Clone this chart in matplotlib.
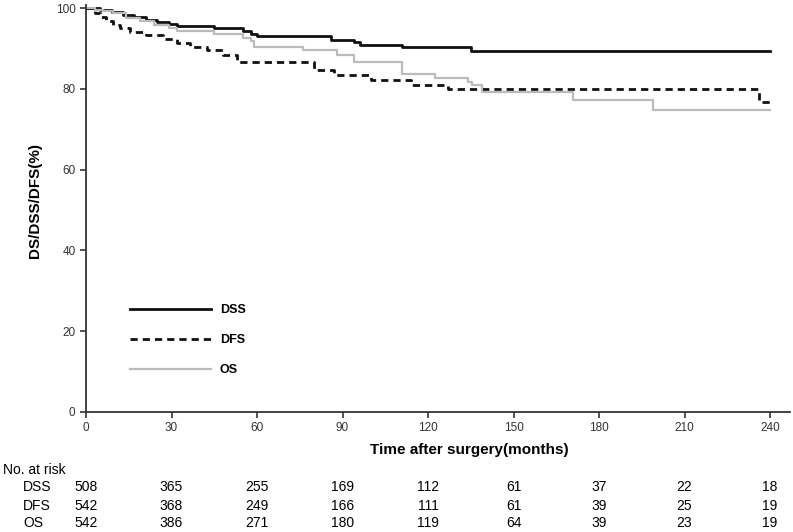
import matplotlib
matplotlib.use("Agg")
import matplotlib.pyplot as plt
import matplotlib.transforms as mtransforms

plt.rcParams["font.family"] = ["Liberation Sans", "DejaVu Sans"]

# Kaplan-Meier step points (months, %)
dss_t = [0, 5, 9, 13, 17, 21, 25, 29, 32, 45, 55, 58, 60, 86, 94, 96, 111, 135, 240]
dss_v = [100, 99.5, 99.0, 98.4, 97.8, 97.2, 96.6, 96.1, 95.7, 95.0, 94.3, 93.7, 93.1,
         92.2, 91.7, 91.0, 90.5, 89.5, 89.5]

dfs_t = [0, 2, 3, 5, 7, 9.5, 12, 15.5, 21, 27, 32, 36.5, 42.5, 48, 53, 80, 87, 100,
         114, 127, 236, 240]
dfs_v = [100, 99.5, 98.8, 97.9, 96.8, 95.8, 95.0, 94.1, 93.3, 92.5, 91.5, 90.5, 89.6,
         88.4, 86.8, 84.7, 83.4, 82.3, 81.1, 80.1, 76.7, 76.7]

os_t = [0, 3, 6, 9.5, 14, 19, 24, 29, 32, 45, 55, 58, 59, 76, 88, 94, 111, 122.5,
        134, 135.5, 139, 171, 199, 240]
os_v = [100, 99.6, 99.2, 98.7, 97.7, 96.8, 95.9, 95.0, 94.4, 93.7, 92.7, 92.0, 90.5,
        89.6, 88.4, 86.6, 83.7, 82.8, 81.8, 80.9, 79.2, 77.2, 74.9, 74.9]

# number at risk table
risk_times = [0, 30, 60, 90, 120, 150, 180, 210, 240]
risk_dss = [508, 365, 255, 169, 112, 61, 37, 22, 18]
risk_dfs = [542, 368, 249, 166, 111, 61, 39, 25, 19]
risk_os = [542, 386, 271, 180, 119, 64, 39, 23, 19]

fig = plt.figure(figsize=(7.93, 5.32), dpi=100)
ax = fig.add_axes([86 / 793, 1 - 412 / 532, 704 / 793, 407 / 532])

ax.step(dss_t, dss_v, where="post", color="#111111", lw=2.0, label="DSS")
ax.step(dfs_t, dfs_v, where="post", color="#111111", lw=2.0,
        linestyle=(0, (2.6, 1.8)), label="DFS")
ax.step(os_t, os_v, where="post", color="#bbbbbb", lw=1.6, label="OS")

ax.set_xlim(0, 247)
ax.set_ylim(0, 100.8)
ax.set_xticks(risk_times)
ax.set_yticks([0, 20, 40, 60, 80, 100])
ax.tick_params(labelsize=8.5, labelcolor="#333333", length=4, width=1.2, color="#333333")

for s in ["top", "right"]:
    ax.spines[s].set_visible(False)
for s in ["left", "bottom"]:
    ax.spines[s].set_linewidth(1.3)
    ax.spines[s].set_color("#333333")

ax.set_xlabel("Time after surgery(months)", fontsize=11, fontweight="bold")
ax.xaxis.set_label_coords(0.545, -0.075)
ax.set_ylabel("DS/DSS/DFS(%)", fontsize=11, fontweight="bold")
ax.yaxis.set_label_coords(-0.062, 0.52)

ax.legend(loc="upper left", bbox_to_anchor=(0.0625, 0.265), frameon=False,
          borderpad=0, borderaxespad=0, handlelength=6.5, handletextpad=0.7,
          labelspacing=1.45, prop={"weight": "bold", "size": 9})

# number at risk below the axis
trans = mtransforms.blended_transform_factory(ax.transData, fig.transFigure)
fig.text(3 / 793, 1 - 470 / 532, "No. at risk", fontsize=10, va="center")
rows = [("DSS", risk_dss, 487), ("DFS", risk_dfs, 506), ("OS", risk_os, 523)]
for name, counts, ypix in rows:
    fy = 1 - ypix / 532
    fig.text(23 / 793, fy, name, fontsize=10, va="center")
    for t, n in zip(risk_times, counts):
        ax.text(t, fy, str(n), transform=trans, fontsize=10, ha="center", va="center",
                clip_on=False)

fig.savefig("out.png", dpi=100)
